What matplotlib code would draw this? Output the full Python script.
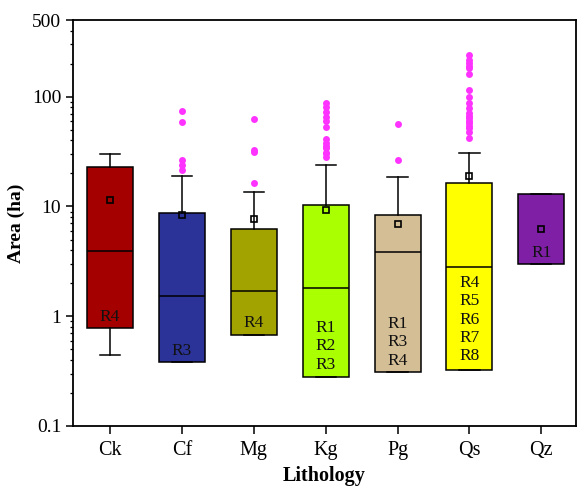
import matplotlib
matplotlib.use("Agg")
import matplotlib.pyplot as plt
from matplotlib.ticker import LogLocator, FixedLocator, NullFormatter

plt.rcParams['font.family'] = ['Liberation Serif', 'DejaVu Serif']

lithology = ["Ck", "Cf", "Mg", "Kg", "Pg", "Qs", "Qz"]
colors = ["#A50000", "#2B3399", "#A3A300", "#AAFF00", "#D4BE96", "#FFFF00", "#7F1FA5"]

q1 = [0.78, 0.38, 0.68, 0.28, 0.31, 0.324, 3.0]
med = [3.94, 1.53, 1.70, 1.79, 3.88, 2.81, 3.0]
q3 = [22.8, 8.7, 6.25, 10.3, 8.3, 16.4, 12.9]
whis_lo = [0.44, 0.38, 0.68, 0.28, 0.31, 0.324, 3.0]
whis_hi = [29.9, 19.1, 13.6, 23.8, 18.5, 30.5, 12.9]
means = [11.5, 8.3, 7.65, 9.2, 6.98, 19.1, 6.3]
outliers = [
    [],
    [73.7, 58.9, 26.4, 23.8, 21.5],
    [63.0, 32.7, 31.4, 16.2],
    [88.3, 80.0, 72.6, 65.0, 60.5, 52.7, 41.0, 37.7, 35.5, 33.9, 31.0, 30.9, 28.1],
    [56.5, 26.7],
    [240, 215, 203, 190, 183, 161, 115, 100, 87.7, 79, 71, 67, 64, 60, 57.7, 54, 51.9, 47.7, 42.4],
    [],
]
rank_labels = [["R4"], ["R3"], ["R4"], ["R1", "R2", "R3"], ["R1", "R3", "R4"],
               ["R4", "R5", "R6", "R7", "R8"], ["R1"]]
label_at = [0.98, 0.48, 0.865, 0.53, 0.58, 0.93, 3.8]

fig = plt.figure(figsize=(5.77, 4.86), dpi=100)
ax = fig.add_axes([0.1265, 0.1235, 0.8715, 0.8353])

stats = []
for i in range(len(lithology)):
    stats.append(dict(q1=q1[i], med=med[i], q3=q3[i], whislo=whis_lo[i], whishi=whis_hi[i],
                      mean=means[i], fliers=outliers[i], label=lithology[i]))

bp = ax.bxp(stats, positions=range(len(lithology)), widths=0.64, capwidths=0.28,
            patch_artist=True, showmeans=True,
            boxprops=dict(linewidth=1.1, edgecolor="black"),
            medianprops=dict(color="black", linewidth=1.1),
            whiskerprops=dict(color="black", linewidth=1.1),
            capprops=dict(color="black", linewidth=1.1),
            meanprops=dict(marker="s", markerfacecolor="none", markeredgecolor="black",
                           markersize=4.5, markeredgewidth=1.2),
            flierprops=dict(marker="o", markerfacecolor="#FF33FF", markeredgecolor="none",
                            markersize=5))
for patch, c in zip(bp["boxes"], colors):
    patch.set_facecolor(c)
# Qz has no visible median line
bp["medians"][6].set_visible(False)

for i, labs in enumerate(rank_labels):
    ax.text(i, label_at[i], "\n".join(labs), ha="center", va="center",
            fontsize=12.5, linespacing=1.2, color="#111111")

ax.set_yscale("log")
ax.set_ylim(0.1, 500)
ax.set_xlim(-0.515, 6.48)
ax.yaxis.set_major_locator(FixedLocator([0.1, 1, 10, 100, 500]))
ax.set_yticklabels(["0.1", "1", "10", "100", "500"])
ax.yaxis.set_minor_locator(LogLocator(base=10, subs=range(2, 10)))
ax.yaxis.set_minor_formatter(NullFormatter())

ax.set_xticks(range(len(lithology)))
ax.set_xticklabels(lithology)
ax.tick_params(axis="y", which="major", direction="out", length=5, width=1.1,
               labelsize=14)
ax.tick_params(axis="x", which="major", direction="out", length=6, width=1.1,
               labelsize=14.5, pad=5)
ax.tick_params(axis="y", which="minor", direction="out", length=2.5, width=0.9)
for s in ax.spines.values():
    s.set_linewidth(1.3)

ax.set_ylabel("Area (ha)", fontsize=14, fontweight="bold", labelpad=5)
ax.set_xlabel("Lithology", fontsize=14.5, fontweight="bold", labelpad=4)

fig.savefig("out.png", dpi=100)
